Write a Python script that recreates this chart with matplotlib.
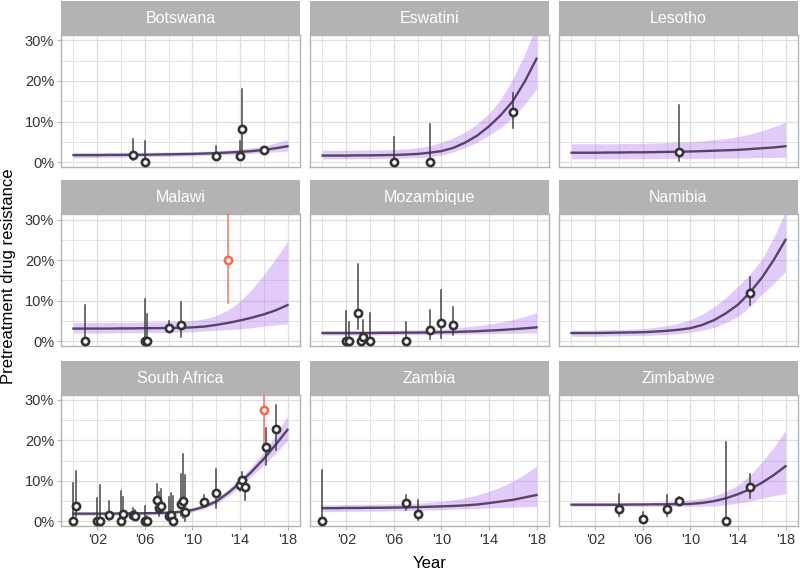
import matplotlib
matplotlib.use("Agg")
import matplotlib.pyplot as plt
from matplotlib.ticker import FixedLocator, FuncFormatter

plt.rcParams["font.family"] = ["Liberation Sans", "DejaVu Sans"]

# model years (fitted curve + 95% band), values in %
years = list(range(2000, 2019))

countries = ["Botswana", "Eswatini", "Lesotho",
             "Malawi", "Mozambique", "Namibia",
             "South Africa", "Zambia", "Zimbabwe"]

botswana_fit = [1.7, 1.7, 1.7, 1.75, 1.75, 1.8, 1.8, 1.85, 1.9, 1.95, 2.0, 2.1, 2.2, 2.35, 2.5, 2.7, 3.0, 3.4, 3.9]
botswana_lo = [1.0, 1.05, 1.1, 1.15, 1.2, 1.25, 1.3, 1.35, 1.4, 1.45, 1.5, 1.6, 1.7, 1.8, 1.9, 2.1, 2.3, 2.5, 2.7]
botswana_hi = [2.4, 2.4, 2.4, 2.4, 2.4, 2.4, 2.4, 2.45, 2.5, 2.55, 2.6, 2.7, 2.8, 3.0, 3.2, 3.5, 4.0, 4.7, 5.5]

eswatini_fit = [1.6, 1.6, 1.6, 1.65, 1.65, 1.7, 1.75, 1.85, 2.0, 2.3, 2.7, 3.5, 4.8, 6.5, 8.8, 11.6, 15.0, 19.8, 25.5]
eswatini_lo = [0.8, 0.8, 0.8, 0.85, 0.85, 0.9, 0.95, 1.0, 1.1, 1.3, 1.7, 2.5, 3.6, 4.9, 6.6, 8.5, 11.0, 14.2, 18.0]
eswatini_hi = [2.9, 2.9, 2.9, 2.95, 3.0, 3.0, 3.1, 3.2, 3.5, 4.0, 4.9, 6.0, 7.4, 9.4, 12.0, 15.5, 20.5, 26.5, 34.0]

lesotho_fit = [2.3, 2.3, 2.3, 2.35, 2.35, 2.4, 2.4, 2.45, 2.5, 2.55, 2.6, 2.7, 2.8, 2.9, 3.0, 3.2, 3.4, 3.6, 3.9]
lesotho_lo = [0.8, 0.8, 0.8, 0.8, 0.8, 0.85, 0.85, 0.85, 0.9, 0.9, 0.9, 0.95, 0.95, 1.0, 1.0, 1.05, 1.1, 1.1, 1.2]
lesotho_hi = [4.5, 4.5, 4.5, 4.5, 4.55, 4.6, 4.6, 4.7, 4.8, 4.9, 5.0, 5.2, 5.5, 5.8, 6.3, 6.9, 7.7, 8.7, 9.8]

malawi_fit = [3.1, 3.1, 3.1, 3.1, 3.15, 3.15, 3.2, 3.2, 3.25, 3.3, 3.4, 3.6, 4.0, 4.5, 5.1, 5.8, 6.6, 7.6, 8.9]
malawi_lo = [2.0, 2.0, 2.0, 2.0, 2.05, 2.05, 2.1, 2.1, 2.15, 2.2, 2.3, 2.5, 2.7, 2.85, 3.0, 3.3, 3.7, 4.0, 4.3]
malawi_hi = [4.6, 4.6, 4.6, 4.6, 4.6, 4.65, 4.7, 4.75, 4.8, 4.9, 5.1, 5.5, 6.3, 7.7, 9.8, 12.8, 16.4, 20.3, 24.6]

mozambique_fit = [2.0, 2.0, 2.0, 2.0, 2.0, 2.05, 2.05, 2.1, 2.1, 2.15, 2.2, 2.25, 2.35, 2.45, 2.6, 2.75, 2.95, 3.15, 3.4]
mozambique_lo = [1.5, 1.5, 1.5, 1.5, 1.5, 1.5, 1.55, 1.55, 1.6, 1.6, 1.65, 1.7, 1.75, 1.8, 1.85, 1.9, 1.95, 2.0, 2.0]
mozambique_hi = [2.6, 2.6, 2.6, 2.6, 2.6, 2.65, 2.7, 2.75, 2.8, 2.9, 3.0, 3.2, 3.5, 3.8, 4.2, 4.7, 5.3, 6.1, 7.0]

namibia_fit = [2.0, 2.0, 2.0, 2.05, 2.1, 2.15, 2.2, 2.35, 2.55, 2.8, 3.2, 4.0, 5.2, 6.9, 9.0, 12.0, 15.6, 20.0, 25.0]
namibia_lo = [1.2, 1.2, 1.2, 1.25, 1.3, 1.35, 1.4, 1.5, 1.65, 1.85, 2.2, 2.7, 3.4, 4.6, 6.1, 8.5, 11.5, 14.2, 17.2]
namibia_hi = [2.7, 2.7, 2.75, 2.8, 2.85, 2.95, 3.1, 3.4, 3.8, 4.4, 5.3, 6.7, 8.5, 10.8, 13.5, 16.5, 20.2, 25.5, 32.0]

southafrica_fit = [1.9, 1.9, 1.9, 1.9, 1.95, 1.95, 2.0, 2.05, 2.15, 2.35, 2.8, 3.6, 4.9, 7.0, 9.5, 12.3, 15.4, 18.9, 22.6]
southafrica_lo = [1.5, 1.5, 1.5, 1.5, 1.55, 1.55, 1.6, 1.65, 1.75, 1.95, 2.35, 3.1, 4.3, 6.2, 8.6, 11.2, 13.9, 16.8, 19.9]
southafrica_hi = [2.3, 2.3, 2.3, 2.3, 2.35, 2.35, 2.4, 2.45, 2.55, 2.8, 3.3, 4.2, 5.6, 7.9, 10.6, 13.6, 17.1, 21.2, 26.0]

zambia_fit = [3.25, 3.25, 3.3, 3.3, 3.35, 3.35, 3.4, 3.45, 3.5, 3.6, 3.7, 3.8, 3.95, 4.15, 4.5, 4.9, 5.3, 5.9, 6.5]
zambia_lo = [2.4, 2.4, 2.45, 2.5, 2.5, 2.55, 2.6, 2.65, 2.7, 2.8, 2.9, 3.0, 3.1, 3.2, 3.3, 3.4, 3.5, 3.6, 3.7]
zambia_hi = [4.1, 4.1, 4.15, 4.2, 4.2, 4.25, 4.3, 4.4, 4.5, 4.7, 4.9, 5.3, 5.8, 6.5, 7.4, 8.5, 9.9, 11.6, 13.6]

zimbabwe_fit = [4.1, 4.1, 4.1, 4.1, 4.1, 4.15, 4.15, 4.2, 4.2, 4.25, 4.3, 4.55, 5.0, 5.7, 6.7, 7.9, 9.5, 11.4, 13.6]
zimbabwe_lo = [3.7, 3.7, 3.7, 3.7, 3.7, 3.7, 3.7, 3.7, 3.7, 3.7, 3.7, 3.75, 3.8, 4.1, 4.5, 5.0, 5.7, 6.3, 6.9]
zimbabwe_hi = [4.6, 4.6, 4.6, 4.6, 4.6, 4.65, 4.65, 4.7, 4.8, 5.0, 5.3, 5.7, 6.3, 7.4, 8.9, 11.3, 14.6, 18.2, 22.5]

# survey estimates: (year, value, lower, upper, outlier)
botswana_pts = [(2005, 1.65, 0.6, 5.7, 0), (2006, 0, 0, 5.3, 0), (2012, 1.4, 0.6, 4.0, 0),
                (2014, 1.4, 0.4, 5.1, 0), (2014.2, 8.2, 2.8, 18.1, 0), (2016, 2.9, 2.4, 3.5, 0)]
eswatini_pts = [(2006, 0, 0, 6.1, 0), (2009, 0, 0, 9.4, 0), (2016, 12.3, 8.3, 17.1, 0)]
lesotho_pts = [(2009, 2.6, 0.2, 14.0, 0)]
malawi_pts = [(2001, 0, 0, 8.9, 0), (2006, 0, 0, 10.4, 0), (2006.2, 0, 0, 6.7, 0),
              (2008, 3.3, 2.2, 4.9, 0), (2009, 3.9, 1.1, 9.7, 0), (2013, 20.0, 9.5, 35.0, 1)]
mozambique_pts = [(2002, 0, 0, 7.5, 0), (2002.2, 0, 0, 4.8, 0), (2003, 7.0, 3.0, 19.0, 0),
                  (2003.2, 0, 0, 2.0, 0), (2003.4, 1.0, 0.2, 5.2, 0), (2004, 0, 0, 7.0, 0),
                  (2007, 0, 0, 4.8, 0), (2009, 2.7, 0.6, 7.7, 0), (2010, 4.4, 0.8, 12.5, 0),
                  (2011, 4.1, 1.5, 8.5, 0)]
namibia_pts = [(2015, 12.0, 9.0, 15.9, 0)]
southafrica_pts = [(2000, 0, 0, 9.5, 0), (2000.2, 3.7, 1.2, 12.4, 0), (2002, 0, 0, 5.7, 0),
                   (2002.2, 0, 0, 8.9, 0), (2003, 1.5, 0.4, 5.1, 0), (2004, 0, 0, 7.5, 0),
                   (2004.2, 1.9, 0.6, 6.1, 0), (2005, 1.5, 0.6, 3.3, 0), (2005.2, 1.2, 0.4, 2.8, 0),
                   (2006, 0, 0, 3.8, 0), (2006.2, 0, 0, 1.2, 0), (2007, 5.3, 2.8, 9.2, 0),
                   (2007.2, 3.3, 1.2, 7.3, 0), (2007.4, 3.9, 2.0, 7.9, 0), (2008, 1.4, 0.6, 6.1, 0),
                   (2008.2, 1.5, 0.6, 6.9, 0), (2008.4, 0, 0, 6.3, 0), (2009, 4.2, 1.2, 11.6, 0),
                   (2009.2, 5.1, 0.8, 16.7, 0), (2009.4, 2.3, 0.2, 11.4, 0), (2011, 4.7, 3.7, 6.5, 0),
                   (2012, 6.9, 3.3, 12.8, 0), (2014, 8.9, 7.6, 10.6, 0), (2014.2, 10.2, 8.5, 12.2, 0),
                   (2014.4, 8.4, 5.3, 11.0, 0), (2016, 27.4, 19.1, 35.0, 1), (2016.2, 18.3, 14.0, 23.0, 0),
                   (2017, 22.8, 17.5, 28.8, 0)]
zambia_pts = [(2000, 0, 0, 12.6, 0), (2007, 4.5, 2.8, 6.5, 0), (2008, 1.9, 0.4, 5.3, 0)]
zimbabwe_pts = [(2004, 3.0, 1.2, 6.7, 0), (2006, 0.6, 0, 2.4, 0), (2008, 3.0, 1.2, 6.5, 0),
                (2009, 5.0, 4.2, 5.9, 0), (2013, 0, 0, 19.6, 0), (2015, 8.4, 5.7, 11.6, 0)]

fits = [botswana_fit, eswatini_fit, lesotho_fit, malawi_fit, mozambique_fit,
        namibia_fit, southafrica_fit, zambia_fit, zimbabwe_fit]
los = [botswana_lo, eswatini_lo, lesotho_lo, malawi_lo, mozambique_lo,
       namibia_lo, southafrica_lo, zambia_lo, zimbabwe_lo]
his = [botswana_hi, eswatini_hi, lesotho_hi, malawi_hi, mozambique_hi,
       namibia_hi, southafrica_hi, zambia_hi, zimbabwe_hi]
pts = [botswana_pts, eswatini_pts, lesotho_pts, malawi_pts, mozambique_pts,
       namibia_pts, southafrica_pts, zambia_pts, zimbabwe_pts]

W, H = 800, 572
fig = plt.figure(figsize=(W / 100, H / 100), dpi=100)

col_left = [61, 310, 559]
row_top = [35.2, 214.3, 394.5]
pw, ph, sh = 239, 131.7, 34

grey70 = "#B3B3B3"
grid_c = "#DEDEDE"
band_c = "#A962F1"
line_c = "#574463"
pt_c = "#333333"
red_c = "#F26A4F"

for i, name in enumerate(countries):
    r, c = divmod(i, 3)
    left = col_left[c] / W
    bottom = 1 - (row_top[r] + ph) / H
    ax = fig.add_axes([left, bottom, pw / W, ph / H])

    ax.fill_between(years, [v / 100 for v in los[i]], [v / 100 for v in his[i]],
                    color=band_c, alpha=0.33, lw=0, zorder=2)
    ax.plot(years, [v / 100 for v in fits[i]], color=line_c, lw=1.7, zorder=3)

    for yr, val, lo, hi, out in pts[i]:
        col = red_c if out else pt_c
        ax.plot([yr, yr], [lo / 100, hi / 100], color=col, lw=1.1, alpha=0.9, zorder=4)
        ax.plot(yr, val / 100, "o", ms=5.2, mfc="white", mec=col, mew=1.9, zorder=5)

    ax.set_xlim(1998.95, 2019.05)
    ax.set_ylim(-0.012, 0.313)
    ax.xaxis.set_major_locator(FixedLocator([2002, 2006, 2010, 2014, 2018]))
    ax.xaxis.set_minor_locator(FixedLocator([2000, 2004, 2008, 2012, 2016]))
    ax.yaxis.set_major_locator(FixedLocator([0, 0.1, 0.2, 0.3]))
    ax.yaxis.set_minor_locator(FixedLocator([0.05, 0.15, 0.25]))
    ax.grid(True, which="major", color=grid_c, lw=0.9, zorder=0)
    ax.grid(True, which="minor", color=grid_c, lw=0.6, zorder=0)
    ax.set_axisbelow(True)
    for sp in ax.spines.values():
        sp.set_color(grey70)
        sp.set_linewidth(1.0)
    ax.tick_params(which="both", color=grey70, length=3, width=0.8,
                   labelsize=10.5, labelcolor="#333333", pad=2)
    ax.tick_params(which="minor", length=0)
    ax.xaxis.set_major_formatter(FuncFormatter(lambda v, p: "'%02d" % (int(round(v)) % 100)))
    ax.yaxis.set_major_formatter(FuncFormatter(lambda v, p: "%d%%" % round(v * 100)))
    if r < 2:
        ax.tick_params(axis="x", which="major", length=0, labelbottom=False)
    if c > 0:
        ax.tick_params(axis="y", which="major", length=0, labelleft=False)

    # facet strip
    sax = fig.add_axes([left, 1 - row_top[r] / H, pw / W, sh / H])
    sax.set_facecolor(grey70)
    sax.set_xticks([])
    sax.set_yticks([])
    for sp in sax.spines.values():
        sp.set_visible(False)
    sax.text(0.5, 0.48, name, ha="center", va="center", color="white",
             fontsize=11.5, transform=sax.transAxes)

fig.text(0.011, 1 - 276 / H, "Pretreatment drug resistance", rotation=90,
         ha="center", va="center", fontsize=12, color="black")
fig.text((61 + 798) / 2 / W, 1 - 563 / H, "Year", ha="center", va="center",
         fontsize=12, color="black")

fig.savefig("out.png", dpi=100)
